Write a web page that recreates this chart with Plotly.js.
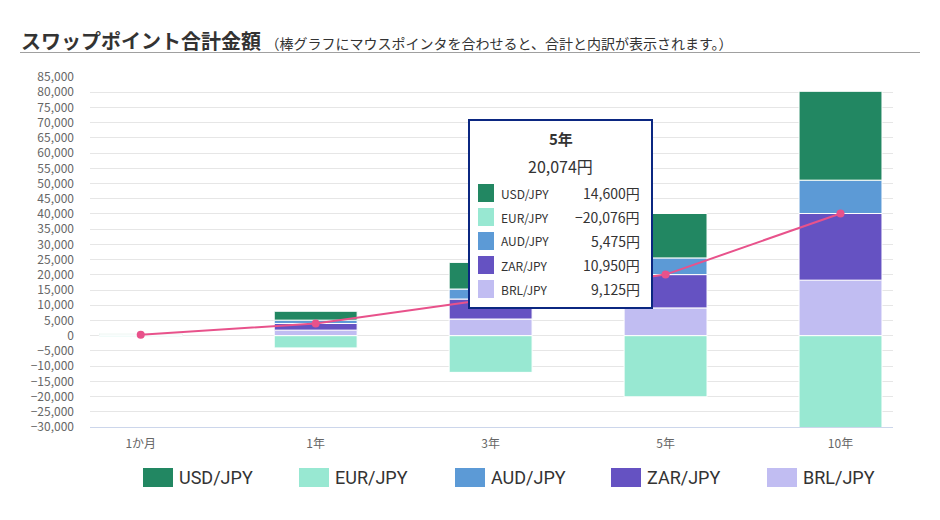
<!DOCTYPE html>
<html>
<head>
<meta charset="utf-8">
<script src="https://cdn.plot.ly/plotly-3.0.1.min.js"></script>
<style>
html,body{margin:0;padding:0;background:#fff;}
#chart{width:940px;height:520px;}
</style>
</head>
<body>
<div id="chart"></div>
<script>
// ---- data ----
const categories = ['1か月', '1年', '3年', '5年', '10年'];
const seriesNames = ['USD/JPY', 'EUR/JPY', 'AUD/JPY', 'ZAR/JPY', 'BRL/JPY'];
const usdJpy = [243, 2920, 8760, 14600, 29200];
const eurJpy = [-335, -4015, -12046, -20076, -40152];
const audJpy = [91, 1095, 3285, 5475, 10950];
const zarJpy = [183, 2190, 6570, 10950, 21900];
const brlJpy = [152, 1825, 5475, 9125, 18250];
const totalJpy = [334, 4015, 12044, 20074, 40148];
const seriesColors = ['#228762', '#98e8d2', '#5c9ad6', '#6552c2', '#c1bdf2'];
const tooltipIndex = 3;

const seriesValues = [usdJpy, eurJpy, audJpy, zarJpy, brlJpy];

// ---- geometry helpers (pixel -> paper) ----
const L = 90, R = 893, T = 77, B = 427;
const W = R - L, H = B - T;
const PX = x => (x - L) / W;
const PY = y => (B - y) / H;

const font = '"Noto Sans CJK JP", "Noto Sans", sans-serif';

// ---- traces: stack order bottom->top BRL, ZAR, AUD, USD ; EUR negative ----
const stackOrder = [4, 3, 2, 0, 1];
const traces = stackOrder.map(i => ({
  type: 'bar',
  name: seriesNames[i],
  x: categories,
  y: seriesValues[i],
  marker: {color: seriesColors[i], line: {color: '#ffffff', width: 1}},
  showlegend: false,
  hoverinfo: 'skip'
}));
traces.push({
  type: 'scatter',
  mode: 'lines+markers',
  name: '合計',
  x: categories,
  y: totalJpy,
  line: {color: '#e8528b', width: 2},
  marker: {color: '#e8528b', size: 8},
  showlegend: false,
  hoverinfo: 'skip'
});

const shapes = [];
const annotations = [];

// title + underline
annotations.push({
  xref: 'paper', yref: 'paper', x: PX(19), y: PY(40), xanchor: 'left', yanchor: 'middle',
  showarrow: false, align: 'left',
  text: '<b>スワップポイント合計金額</b> <span style="font-size:14px">（棒グラフにマウスポインタを合わせると、合計と内訳が表示されます。）</span>',
  font: {family: font, size: 20, color: '#333333'}
});
shapes.push({type: 'line', xref: 'paper', yref: 'paper', x0: PX(20), x1: PX(920), y0: PY(52.5), y1: PY(52.5),
  line: {color: '#a0a0a0', width: 1}, layer: 'above'});

// custom legend
const legendX = [143, 299, 455, 611, 767];
for (let k = 0; k < seriesNames.length; k++) {
  shapes.push({type: 'rect', xref: 'paper', yref: 'paper',
    x0: PX(legendX[k]), x1: PX(legendX[k] + 30), y0: PY(487), y1: PY(468),
    fillcolor: seriesColors[k], line: {width: 0}, layer: 'above'});
  annotations.push({xref: 'paper', yref: 'paper', x: PX(legendX[k] + 34), y: PY(477.5),
    xanchor: 'left', yanchor: 'middle', showarrow: false,
    text: seriesNames[k], font: {family: 'Roboto, sans-serif', size: 18, color: '#333333'}});
}

// tooltip box for 5年
shapes.push({type: 'rect', xref: 'paper', yref: 'paper',
  x0: PX(469), x1: PX(652), y0: PY(308), y1: PY(120),
  fillcolor: '#ffffff', line: {color: '#0b2781', width: 2}, layer: 'above'});
const fmt = v => (v < 0 ? '−' : '') + Math.abs(v).toLocaleString('en-US') + '円';
annotations.push({xref: 'paper', yref: 'paper', x: PX(560.5), y: PY(138), xanchor: 'center', yanchor: 'middle',
  showarrow: false, text: '<b>' + categories[tooltipIndex] + '</b>',
  font: {family: font, size: 15, color: '#333333'}});
annotations.push({xref: 'paper', yref: 'paper', x: PX(560.5), y: PY(166), xanchor: 'center', yanchor: 'middle',
  showarrow: false, text: fmt(totalJpy[tooltipIndex]),
  font: {family: font, size: 16, color: '#333333'}});
for (let k = 0; k < seriesNames.length; k++) {
  const cy = 193 + 24 * k;
  shapes.push({type: 'rect', xref: 'paper', yref: 'paper',
    x0: PX(478), x1: PX(494), y0: PY(cy + 9), y1: PY(cy - 9),
    fillcolor: seriesColors[k], line: {width: 0}, layer: 'above'});
  annotations.push({xref: 'paper', yref: 'paper', x: PX(499), y: PY(cy),
    xanchor: 'left', yanchor: 'middle', showarrow: false, text: seriesNames[k],
    font: {family: font, size: 12, color: '#333333'}});
  annotations.push({xref: 'paper', yref: 'paper', x: PX(642), y: PY(cy),
    xanchor: 'right', yanchor: 'middle', showarrow: false, text: fmt(seriesValues[k][tooltipIndex]),
    font: {family: font, size: 14, color: '#333333'}});
}

const layout = {
  width: 940, height: 520,
  margin: {l: L, r: 940 - R, t: T, b: 520 - B},
  paper_bgcolor: '#ffffff', plot_bgcolor: '#ffffff',
  barmode: 'relative',
  bargap: 0.526,
  showlegend: false,
  hovermode: false,
  font: {family: font, color: '#666666'},
  xaxis: {
    type: 'category', range: [-0.29, 4.3],
    showgrid: false, zeroline: false,
    showline: true, linecolor: '#ccd6eb', linewidth: 1,
    ticks: '', ticklabelstandoff: 6,
    tickfont: {family: font, size: 12, color: '#666666'}
  },
  yaxis: {
    range: [-30000, 85000], dtick: 5000, tick0: 0,
    tickformat: ',', showgrid: true, gridcolor: '#e6e6e6', gridwidth: 1,
    zeroline: false, showline: false,
    ticks: '', ticklabelstandoff: 15,
    tickfont: {family: font, size: 12, color: '#666666'}
  },
  shapes: shapes,
  annotations: annotations
};

Plotly.newPlot('chart', traces, layout, {displayModeBar: false, staticPlot: true});
</script>
</body>
</html>
